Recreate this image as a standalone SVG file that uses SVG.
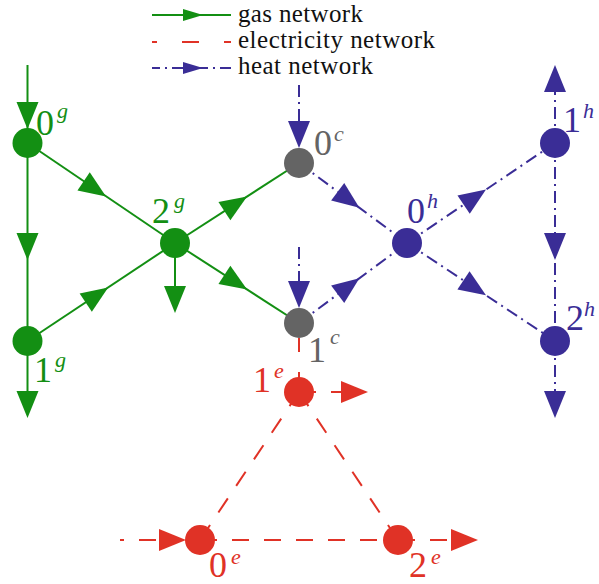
<svg xmlns="http://www.w3.org/2000/svg" xmlns:xlink="http://www.w3.org/1999/xlink" width="599" height="584" viewBox="0 0 599 584" font-family="Liberation Serif, Times New Roman, Times, serif">
<defs>
  <path id="ah" d="M0,0 L-27,-11 L-27,11 Z"/>
  <path id="ahs" d="M0,0 L-20,-6 L-20,6 Z"/>
  <style>
    .gas{stroke:#138f13;stroke-width:2;fill:none}
    .ele{stroke:#e03226;stroke-width:2;fill:none;stroke-dasharray:17 15}
    .heat{stroke:#3a2d96;stroke-width:2;fill:none;stroke-dasharray:12 5 2 5}
    .ga{fill:#138f13}
    .ea{fill:#e03226}
    .ha{fill:#3a2d96}
    .num{font-size:36px}
    .sup{font-size:22px;font-style:italic}
    .leg{font-size:25px;fill:#111}
  </style>
</defs>
<rect width="599" height="584" fill="#fff"/>

<g id="legend">
  <line class="gas" x1="152" y1="15" x2="231" y2="15"/>
  <use xlink:href="#ahs" class="ga" transform="translate(203,15)"/>
  <text class="leg" x="238" y="22" font-family="Liberation Serif" textLength="125">gas network</text>
  <line class="ele" x1="152" y1="42" x2="231" y2="42" style="stroke-dasharray:17 25;stroke-dashoffset:12"/>
  <text class="leg" x="238" y="48" font-family="Liberation Serif" textLength="197">electricity network</text>
  <line class="heat" x1="152" y1="68" x2="231" y2="68" style="stroke-dashoffset:4"/>
  <use xlink:href="#ahs" class="ha" transform="translate(203,68)"/>
  <text class="leg" x="238" y="74" font-family="Liberation Serif" textLength="135">heat network</text>
</g>

<g id="connectors">
  <line class="gas" x1="27.5" y1="65" x2="27.5" y2="143"/>
  <line class="gas" x1="27.5" y1="143" x2="27.5" y2="341"/>
  <line class="gas" x1="27.5" y1="341" x2="27.5" y2="400"/>
  <line class="gas" x1="27.5" y1="143" x2="175" y2="243"/>
  <line class="gas" x1="27.5" y1="341" x2="175" y2="243"/>
  <line class="gas" x1="175" y1="243" x2="299" y2="163"/>
  <line class="gas" x1="175" y1="243" x2="299" y2="323"/>
  <line class="gas" x1="175" y1="243" x2="175" y2="295"/>
  <use xlink:href="#ah" class="ga" transform="translate(27.5,129) rotate(90)"/>
  <use xlink:href="#ah" class="ga" transform="translate(27.5,260) rotate(90)"/>
  <use xlink:href="#ah" class="ga" transform="translate(27.5,418) rotate(90)"/>
  <use xlink:href="#ah" class="ga" transform="translate(106,196.4) rotate(34)"/>
  <use xlink:href="#ah" class="ga" transform="translate(108.2,287.6) rotate(-33.7)"/>
  <use xlink:href="#ah" class="ga" transform="translate(247.1,196.5) rotate(-32.8)"/>
  <use xlink:href="#ah" class="ga" transform="translate(247.1,289.5) rotate(32.8)"/>
  <use xlink:href="#ah" class="ga" transform="translate(175,313) rotate(90)"/>
  <line class="heat" x1="299" y1="85" x2="299" y2="130"/>
  <line class="heat" x1="299" y1="247" x2="299" y2="290"/>
  <line class="heat" x1="299" y1="163" x2="407" y2="243"/>
  <line class="heat" x1="299" y1="323" x2="407" y2="243"/>
  <line class="heat" x1="407" y1="243" x2="555" y2="143"/>
  <line class="heat" x1="407" y1="243" x2="555" y2="341"/>
  <line class="heat" x1="555" y1="143" x2="555" y2="80"/>
  <line class="heat" x1="555" y1="143" x2="555" y2="341"/>
  <line class="heat" x1="555" y1="341" x2="555" y2="405"/>
  <use xlink:href="#ah" class="ha" transform="translate(299,148) rotate(90)"/>
  <use xlink:href="#ah" class="ha" transform="translate(299,308) rotate(90)"/>
  <use xlink:href="#ah" class="ha" transform="translate(359.4,207.8) rotate(36.5)"/>
  <use xlink:href="#ah" class="ha" transform="translate(359.4,278.2) rotate(-36.5)"/>
  <use xlink:href="#ah" class="ha" transform="translate(486,189.6) rotate(-34)"/>
  <use xlink:href="#ah" class="ha" transform="translate(486,295.3) rotate(33.5)"/>
  <use xlink:href="#ah" class="ha" transform="translate(555,65) rotate(-90)"/>
  <use xlink:href="#ah" class="ha" transform="translate(555,260) rotate(90)"/>
  <use xlink:href="#ah" class="ha" transform="translate(555,418) rotate(90)"/>
  <line class="ele" x1="299" y1="338" x2="299" y2="378" style="stroke-dasharray:14 20"/>
  <line class="ele" x1="299" y1="392" x2="350" y2="392"/>
  <line class="ele" x1="299" y1="392" x2="200" y2="540"/>
  <line class="ele" x1="299" y1="392" x2="398" y2="540"/>
  <line class="ele" x1="200" y1="540" x2="398" y2="540"/>
  <line class="ele" x1="120" y1="540" x2="170" y2="540" style="stroke-dashoffset:13"/>
  <line class="ele" x1="398" y1="540" x2="460" y2="540"/>
  <use xlink:href="#ah" class="ea" transform="translate(368,392)"/>
  <use xlink:href="#ah" class="ea" transform="translate(186,540)"/>
  <use xlink:href="#ah" class="ea" transform="translate(478,540)"/>
</g>

<g id="n0g" fill="#138f13"><circle cx="27.5" cy="143" r="15"/><text class="num" x="36" y="135">0</text><text class="sup" x="57" y="118">g</text></g>
<g id="n1g" fill="#138f13"><circle cx="27.5" cy="341" r="15"/><text class="num" x="34" y="382">1</text><text class="sup" x="55" y="367">g</text></g>
<g id="n2g" fill="#138f13"><circle cx="175" cy="243" r="15"/><text class="num" x="152" y="223">2</text><text class="sup" x="174" y="208">g</text></g>
<g id="n0c" fill="#646464"><circle cx="299" cy="163" r="15"/><text class="num" x="314" y="155">0</text><text class="sup" x="334" y="141">c</text></g>
<g id="n1c" fill="#646464"><circle cx="299" cy="323" r="15"/><text class="num" x="308" y="362">1</text><text class="sup" x="330" y="344">c</text></g>
<g id="n0h" fill="#3a2d96"><circle cx="407" cy="243" r="15"/><text class="num" x="407" y="223">0</text><text class="sup" x="427" y="208">h</text></g>
<g id="n1h" fill="#3a2d96"><circle cx="555" cy="143" r="15"/><text class="num" x="563" y="132">1</text><text class="sup" x="583" y="118">h</text></g>
<g id="n2h" fill="#3a2d96"><circle cx="555" cy="341" r="15"/><text class="num" x="566" y="330">2</text><text class="sup" x="584" y="316">h</text></g>
<g id="n1e" fill="#e03226"><circle cx="299" cy="392" r="15"/><text class="num" x="253" y="392">1</text><text class="sup" x="274" y="378">e</text></g>
<g id="n0e" fill="#e03226"><circle cx="200" cy="540" r="15"/><text class="num" x="209" y="577">0</text><text class="sup" x="231" y="564">e</text></g>
<g id="n2e" fill="#e03226"><circle cx="398" cy="540" r="15"/><text class="num" x="409" y="577">2</text><text class="sup" x="431" y="564">e</text></g>
</svg>
